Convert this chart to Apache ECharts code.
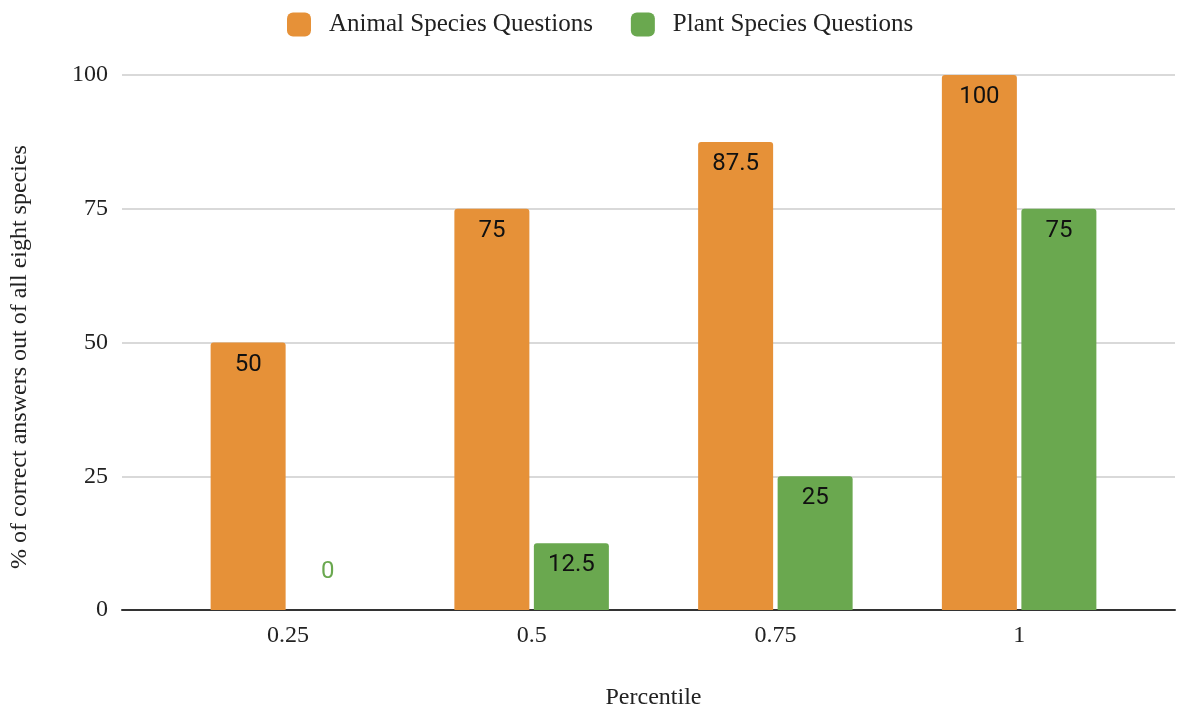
<!DOCTYPE html>
<html>
<head>
<meta charset="utf-8">
<style>
  html, body { margin: 0; padding: 0; background: #fff; }
  #chart { width: 1178px; height: 709px; }
</style>
<script src="https://cdn.jsdelivr.net/npm/echarts@6/dist/echarts.min.js"></script>
</head>
<body>
<div id="chart"></div>
<script>
// Percentile groups along the x axis
const categories = ['0.25', '0.5', '0.75', '1'];
// Share of correct answers (%) per group
const animalValues = [50, 75, 87.5, 100];
const plantValues = [0, 12.5, 25, 75];
const seriesNames = ['Animal Species Questions', 'Plant Species Questions'];
const yTitle = '% of correct answers out of all eight species';
const xTitle = 'Percentile';

const ORANGE = '#e69138';
const GREEN = '#6aa84f';
const SERIF = '"Liberation Serif", "Times New Roman", serif';
const SANS = 'Roboto, "Noto Sans", sans-serif';

// A zero-height bar gets its label floated above the baseline in the bar colour
function toData(values, color) {
  return values.map(v => v === 0
    ? { value: v, label: { position: 'top', distance: 26, color: color } }
    : v);
}

const chart = echarts.init(document.getElementById('chart'));
chart.setOption({
  animation: false,
  backgroundColor: '#ffffff',
  legend: {
    data: seriesNames,
    top: 7,
    left: 282,
    itemWidth: 24,
    itemHeight: 24,
    itemGap: 38,
    icon: 'roundRect',
    textStyle: { fontFamily: SERIF, fontSize: 25, color: '#222', padding: [0, 0, 0, 13] }
  },
  grid: [
    // full-width frame for gridlines and baseline
    { left: 122, right: 3, top: 75, bottom: 99, outerBoundsMode: 'none', containLabel: false },
    // inner band where the bar groups sit
    { left: 166, right: 37, top: 75, bottom: 99, outerBoundsMode: 'none', containLabel: false }
  ],
  xAxis: [
    {
      gridIndex: 0, type: 'value', min: 0, max: 1,
      axisLine: { show: true, lineStyle: { color: '#333', width: 2 } },
      axisTick: { show: false }, axisLabel: { show: false }, splitLine: { show: false }
    },
    {
      gridIndex: 1, type: 'category', data: categories,
      axisLine: { show: false }, axisTick: { show: false },
      axisLabel: { fontFamily: SERIF, fontSize: 24, color: '#222', margin: 14 },
      name: xTitle, nameLocation: 'middle', nameGap: 76,
      nameTextStyle: { fontFamily: SERIF, fontSize: 24, color: '#222' }
    }
  ],
  yAxis: [
    {
      gridIndex: 0, type: 'value', min: 0, max: 100, interval: 25,
      axisLine: { show: false }, axisTick: { show: false },
      axisLabel: { fontFamily: SERIF, fontSize: 24, color: '#222', margin: 14 },
      splitLine: { lineStyle: { color: '#cccccc', width: 1.5 } },
      name: yTitle, nameLocation: 'middle', nameGap: 90,
      nameTextStyle: { fontFamily: SERIF, fontSize: 24, color: '#222', padding: [0, 29, 0, 0] }
    },
    { gridIndex: 1, type: 'value', min: 0, max: 100, show: false }
  ],
  series: [
    {
      name: seriesNames[0], type: 'bar', xAxisIndex: 1, yAxisIndex: 1,
      data: toData(animalValues, ORANGE),
      barWidth: 75, barGap: '6%',
      itemStyle: { color: ORANGE, borderRadius: [3, 3, 0, 0] },
      label: { show: true, position: 'insideTop', distance: 10, fontFamily: SANS, fontSize: 24, color: '#111' }
    },
    {
      name: seriesNames[1], type: 'bar', xAxisIndex: 1, yAxisIndex: 1,
      data: toData(plantValues, GREEN),
      barWidth: 75,
      itemStyle: { color: GREEN, borderRadius: [3, 3, 0, 0] },
      label: { show: true, position: 'insideTop', distance: 10, fontFamily: SANS, fontSize: 24, color: '#111' }
    }
  ]
});
</script>
</body>
</html>
